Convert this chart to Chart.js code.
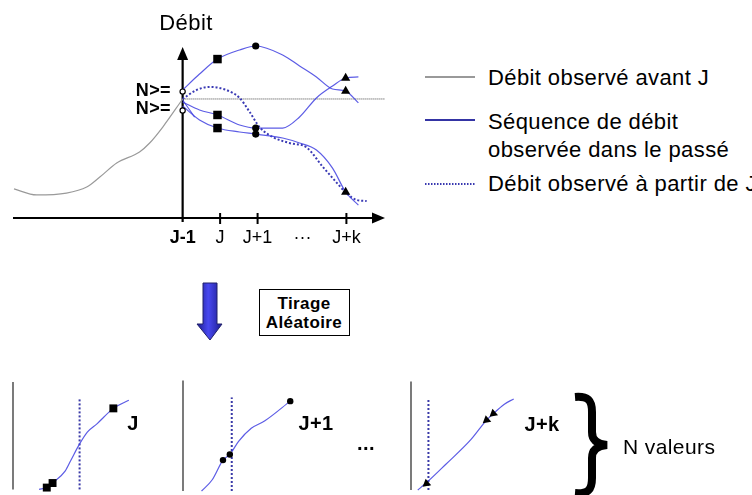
<!DOCTYPE html>
<html><head><meta charset="utf-8">
<script src="https://cdn.jsdelivr.net/npm/chart.js@4.4.0/dist/chart.umd.min.js"></script>
<style>
html,body{margin:0;padding:0;background:#fff;}
body{width:752px;height:495px;position:relative;overflow:hidden;font-family:"Liberation Sans",Arial,sans-serif;color:#000;}
canvas{position:absolute;}
svg{position:absolute;left:0;top:0;}
.t{position:absolute;white-space:nowrap;line-height:1;transform:translateY(-50%);letter-spacing:0.4px;}
.c{transform:translate(-50%,-50%);}
.r{transform:translate(-100%,-50%);}
.b{font-weight:bold;}
</style></head><body>

<svg width="752" height="495">
 <defs><linearGradient id="g" x1="0" x2="1" y1="0" y2="0">
  <stop offset="0" stop-color="#1c1c90"/><stop offset="0.45" stop-color="#4848f0"/><stop offset="1" stop-color="#1c1c90"/></linearGradient></defs>
 <line x1="425" y1="77" x2="475" y2="77" stroke="#999" stroke-width="2"/>
 <line x1="425" y1="120" x2="475" y2="120" stroke="#3434a4" stroke-width="2"/>
 <line x1="425" y1="184" x2="475" y2="184" stroke="#3838b0" stroke-width="2" stroke-dasharray="1.5 1.5"/>
 <polygon points="203,283 217,283 217,324 222,324 210,340 197,324 203,324" fill="url(#g)" stroke="#20206a" stroke-width="1"/>
 <rect x="259.5" y="289.5" width="90" height="46" fill="none" stroke="#000" stroke-width="1"/>
 <path d="M575,397 C588,396 592,400 592,412 L592,432 C592,440 597,444 607,445 C597,446 592,450 592,458 L592,478 C592,490 588,494 575,493" fill="none" stroke="#000" stroke-width="8"/>
</svg>

<canvas id="top" width="400" height="260" style="left:0;top:0"></canvas>
<canvas id="p1" width="170" height="125" style="left:3px;top:370px"></canvas>
<canvas id="p2" width="170" height="125" style="left:173px;top:370px"></canvas>
<canvas id="p3" width="170" height="125" style="left:401px;top:370px"></canvas>

<div class="t c" style="left:186px;top:23px;font-size:22px">Débit</div>
<div class="t r b" style="left:171px;top:90px;font-size:18px">N&gt;=</div>
<div class="t r b" style="left:171px;top:108px;font-size:18px">N&gt;=</div>

<div class="t" style="left:488px;top:78px;font-size:22px">Débit observé avant J</div>
<div class="t" style="left:488px;top:122px;font-size:22px">Séquence de débit</div>
<div class="t" style="left:488px;top:150px;font-size:22px">observée dans le passé</div>
<div class="t" style="left:488px;top:184px;font-size:22px">Débit observé à partir de J</div>

<div class="t c b" style="left:304px;top:303px;font-size:17px">Tirage</div>
<div class="t c b" style="left:304px;top:322px;font-size:17px">Aléatoire</div>

<div class="t c b" style="left:133px;top:423px;font-size:20px">J</div>
<div class="t c b" style="left:316px;top:423px;font-size:20px">J+1</div>
<div class="t c b" style="left:366px;top:443px;font-size:20px">...</div>
<div class="t c b" style="left:542px;top:424px;font-size:20px">J+k</div>
<div class="t" style="left:623px;top:446px;font-size:21px">N valeurs</div>

<script>
// ---------- Top chart data (x: days, J-1 = 0 ; y: débit) ----------
const xTickPos    = [0, 1, 2, 3.2, 4.37];
const xTickLabels = ['J-1', 'J', 'J+1', '···', 'J+k'];

const grayX = [-4.5, -3.9, -3.1, -2.56, -2.21, -1.76, -1.15, -0.88, -0.53, 0];
const grayY = [1.69, 1.34, 1.45, 1.8, 2.38, 3.2, 3.84, 4.36, 5.29, 6.92];

const seqX  = [0, 0.45, 0.93, 1.52, 1.95, 2.67, 3.12, 3.57, 4.0, 4.35, 4.69];
const seqAY = [7.44, 8.37, 9.24, 9.77, 10.0, 9.48, 8.84, 8.2, 7.5, 7.38, 6.69];
const seqBY = [6.74, 6.28, 5.99, 5.41, 5.23, 5.23, 5.87, 6.98, 7.67, 8.14, 8.2];
const seqCY = [6.51, 5.70, 5.23, 5.0, 4.88, 4.65, 4.36, 3.95, 2.9, 1.51, 0.75];
const stubX = [0, 0.32];
const stubY = [6.86, 5.87];

const obsX = [0, 0.37, 0.72, 1.17, 1.52, 1.79, 2.05, 2.4, 2.85, 3.31, 3.73, 4.0, 4.37, 4.64, 4.91];
const obsY = [6.92, 7.44, 7.62, 7.44, 6.98, 6.16, 5.29, 4.71, 4.36, 4.1, 3.0, 2.33, 1.45, 1.05, 0.99];

const refLevel = 6.92;
const refX = [0, 5.4];

const squareX = [0.93, 0.93, 0.93];   const squareY = [9.24, 5.99, 5.23];
const circleX = [1.95, 1.95, 1.95];   const circleY = [10.0, 5.23, 4.88];
const triX    = [4.35, 4.35, 4.35];   const triY    = [8.14, 7.38, 1.51];
const nX = [0, 0];                    const nY = [7.35, 6.25];

// ---------- Bottom panels (x: débit, y: rang) ----------
const q1 = 6.9;
const c1X = [2.7, 3.5, 4.1, 5.4, 6.0, 6.9, 7.7, 8.7, 10.4, 12.0];
const c1Y = [0, 0.2, 0.7, 2.0, 3.2, 5.0, 6.3, 7.2, 8.9, 9.8];
const m1X = [3.5, 4.1, 10.4]; const m1Y = [0.2, 0.7, 8.9];

const q2 = 5.0;
const c2X = [1.9, 3.0, 4.1, 4.8, 5.7, 7.0, 8.4, 11.0];
const c2Y = [0, 1.2, 3.3, 3.9, 5.3, 6.7, 7.5, 9.6];
const m2X = [4.1, 4.8, 11.0]; const m2Y = [3.3, 3.9, 9.6];

const q3 = 1.8;
const c3X = [0.7, 1.5, 3.6, 6.2, 7.8, 8.5, 9.6, 10.6];
const c3Y = [0, 0.7, 2.8, 5.5, 7.6, 8.3, 9.3, 9.9];
const m3X = [1.6, 7.8, 8.5]; const m3Y = [0.7, 7.6, 8.3];

const qTop = 10.0;
const panelAxisTop = 11.8;

// ---------- helpers ----------
const pts = (xs, ys) => xs.map((x, i) => ({x, y: ys[i]}));
const BLUE = 'rgba(64,64,225,0.85)';
const curve = (data, color, extra) => Object.assign({
  type: 'line', data, borderColor: color, borderWidth: 1.2, pointRadius: 0,
  cubicInterpolationMode: 'monotone', fill: false, clip: false, order: 2
}, extra || {});
const marks = (data, style, r, extra) => Object.assign({
  type: 'line', data, showLine: false, pointStyle: style, pointRadius: r,
  pointBackgroundColor: '#000', pointBorderColor: '#000', pointBorderWidth: 0,
  clip: false, order: 0
}, extra || {});

const axesPlugin = {
  id: 'axesTop',
  beforeDatasetsDraw(chart) {
    const {ctx, chartArea: a, scales: {x, y}} = chart;
    const x0 = x.getPixelForValue(0), y0 = y.getPixelForValue(0);
    ctx.save();
    ctx.strokeStyle = '#000'; ctx.fillStyle = '#000'; ctx.lineWidth = 2.2;
    ctx.beginPath(); ctx.moveTo(a.left - 1, y0); ctx.lineTo(a.right - 8, y0); ctx.stroke();
    ctx.beginPath(); ctx.moveTo(a.right, y0); ctx.lineTo(a.right - 13, y0 - 5.5); ctx.lineTo(a.right - 13, y0 + 5.5); ctx.closePath(); ctx.fill();
    ctx.beginPath(); ctx.moveTo(x0, y0 + 4); ctx.lineTo(x0, a.top + 8); ctx.stroke();
    ctx.beginPath(); ctx.moveTo(x0, a.top + 1); ctx.lineTo(x0 - 5.5, a.top + 14); ctx.lineTo(x0 + 5.5, a.top + 14); ctx.closePath(); ctx.fill();
    ctx.lineWidth = 2;
    xTickPos.forEach((v, i) => {
      if (i === 0 || xTickLabels[i] === '···') return;
      const px = x.getPixelForValue(v);
      ctx.beginPath(); ctx.moveTo(px, y0 - 5); ctx.lineTo(px, y0 + 6); ctx.stroke();
    });
    ctx.restore();
  }
};

const panelPlugin = {
  id: 'panelAxis',
  beforeDatasetsDraw(chart) {
    const {ctx, scales: {x, y}} = chart;
    const x0 = x.getPixelForValue(0);
    ctx.save();
    ctx.strokeStyle = '#333'; ctx.lineWidth = 1.3;
    ctx.beginPath(); ctx.moveTo(x0, y.getPixelForValue(0)); ctx.lineTo(x0, y.getPixelForValue(panelAxisTop)); ctx.stroke();
    ctx.restore();
  }
};

Chart.defaults.font.family = '"Liberation Sans", Arial, sans-serif';

new Chart(document.getElementById('top'), {
  type: 'line',
  data: { datasets: [
    marks(pts(squareX, squareY), 'rect', 6),
    marks(pts(circleX, circleY), 'circle', 3.6),
    marks(pts(triX, triY), 'triangle', 5.3),
    marks(pts(nX, nY), 'circle', 2.6, {pointBackgroundColor: '#fff', pointBorderWidth: 1.2}),
    curve(pts(grayX, grayY), '#9a9a9a'),
    curve(pts(seqX, seqAY), BLUE),
    curve(pts(seqX, seqBY), BLUE),
    curve(pts(seqX, seqCY), BLUE),
    curve(pts(stubX, stubY), BLUE),
    curve(pts(obsX, obsY), '#3a3ab4', {borderWidth: 2, borderDash: [2, 2]}),
    curve(pts(refX, [refLevel, refLevel]), '#444', {borderWidth: 1, borderDash: [1, 1], order: 3})
  ]},
  options: {
    responsive: false, animation: false, devicePixelRatio: 1,
    layout: { padding: { left: 14, right: 15, top: 46, bottom: 0 } },
    plugins: { legend: { display: false }, tooltip: { enabled: false } },
    scales: {
      x: {
        type: 'linear', min: -4.5, max: 5.4,
        grid: { display: false, drawTicks: false }, border: { display: false },
        afterBuildTicks: (axis) => { axis.ticks = xTickPos.map(v => ({value: v})); },
        afterFit: (axis) => { axis.height = 42; },
        ticks: {
          autoSkip: false, maxRotation: 0, padding: 9, color: '#000',
          callback: (v, i) => xTickLabels[i],
          font: (c) => ({ size: 18, weight: c.index === 0 ? 'bold' : 'normal' })
        }
      },
      y: { type: 'linear', min: 0, max: 10, display: false }
    }
  },
  plugins: [axesPlugin]
});

function panel(id, cx, cy, mx, my, q, style, r, rot) {
  new Chart(document.getElementById(id), {
    type: 'line',
    data: { datasets: [
      marks(pts(mx, my), style, r, {rotation: rot}),
      curve(pts(cx, cy), BLUE),
      curve(pts([q, q], [0, qTop]), '#3a3aa8', {borderWidth: 2, borderDash: [2, 2], cubicInterpolationMode: 'default'})
    ]},
    options: {
      responsive: false, animation: false, devicePixelRatio: 1,
      layout: { padding: { left: 10, right: 0, top: 0, bottom: 0 } },
      plugins: { legend: { display: false }, tooltip: { enabled: false } },
      scales: {
        x: { type: 'linear', min: 0, max: 16, display: false },
        y: { type: 'linear', min: 0, max: 12.5, display: false }
      }
    },
    plugins: [panelPlugin]
  });
}
panel('p1', c1X, c1Y, m1X, m1Y, q1, 'rect', 5.6, 0);
panel('p2', c2X, c2Y, m2X, m2Y, q2, 'circle', 3.2, 0);
panel('p3', c3X, c3Y, m3X, m3Y, q3, 'triangle', 5, -10);
</script>
</body></html>
